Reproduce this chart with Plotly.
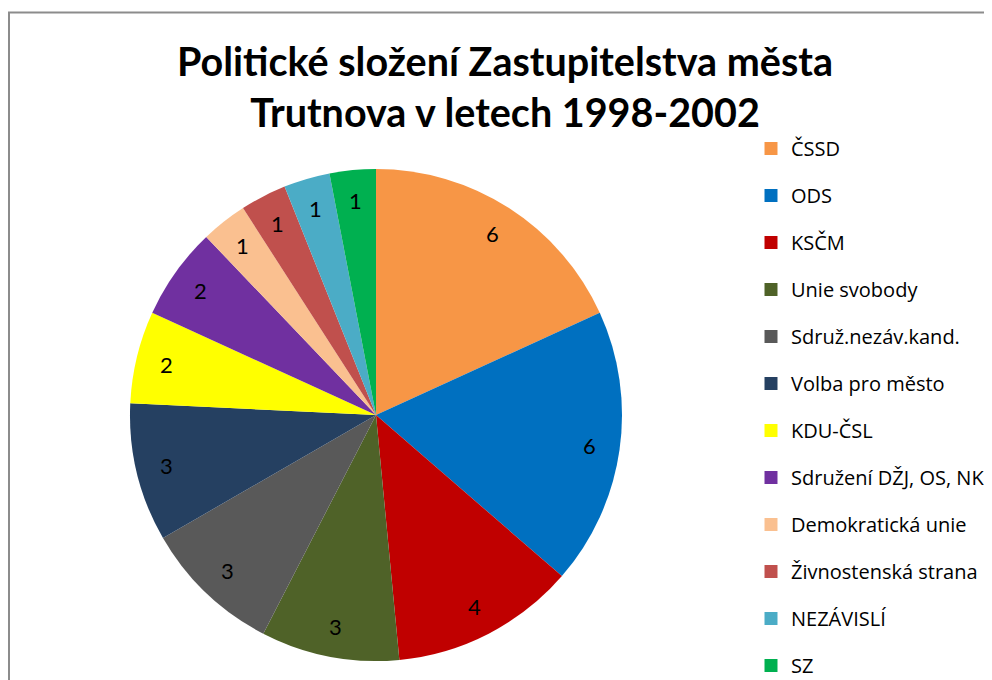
import numpy as np
import plotly.graph_objects as go

# ---- data ----
parties = ["ČSSD", "ODS", "KSČM", "Unie svobody", "Sdruž.nezáv.kand.", "Volba pro město",
           "KDU-ČSL", "Sdružení DŽJ, OS, NK", "Demokratická unie", "Živnostenská strana",
           "NEZÁVISLÍ", "SZ"]
seats = [6, 6, 4, 3, 3, 3, 2, 2, 1, 1, 1, 1]
colors = ["#F79646", "#0070C0", "#C00000", "#4F6228", "#595959", "#254061",
          "#FFFF00", "#7030A0", "#FAC090", "#C0504D", "#4BACC6", "#00B050"]
title_text = "Politické složení Zastupitelstva města<br>Trutnova v letech 1998-2002"

# ---- layout geometry (figure pixels; page body adds an 8px offset) ----
W, H = 984, 672
cx, cy, R = 368, 407, 246
FONT = "Lato, 'Open Sans', sans-serif"
LEG_FONT = "'Open Sans', Lato, sans-serif"


def px(x):
    return x / W


def py(y):
    return 1 - y / H


fig = go.Figure()
fig.add_trace(go.Pie(
    labels=parties, values=seats, sort=False, direction="clockwise", rotation=0,
    marker=dict(colors=colors, line=dict(width=0)),
    textinfo="none", showlegend=False, hoverinfo="label+value",
    domain=dict(x=[px(cx - R), px(cx + R)], y=[py(cy + R), py(cy - R)]),
))

# data labels placed near the outer edge of each slice
total = sum(seats)
cum = 0
for v in seats:
    mid = (cum + v / 2) / total * 2 * np.pi
    cum += v
    lx = cx + 0.875 * R * np.sin(mid)
    ly = cy - 0.875 * R * np.cos(mid)
    fig.add_annotation(x=px(lx), y=py(ly), xref="paper", yref="paper", text=str(v),
                       showarrow=False, xanchor="center", yanchor="middle",
                       font=dict(family=FONT, size=22, color="black"))

# legend entries
for name, col in zip(parties, colors):
    fig.add_trace(go.Scatter(x=[None], y=[None], mode="markers", name=name, legendgroup=name,
                             marker=dict(symbol="square", size=13, color=col),
                             hoverinfo="skip"))

# chart border
fig.add_shape(type="rect", xref="paper", yref="paper",
              x0=px(1), x1=1.02, y0=-0.02, y1=py(4.5),
              line=dict(color="#8c8c8c", width=2), fillcolor="rgba(0,0,0,0)")

fig.update_layout(
    width=W, height=H,
    margin=dict(l=0, r=0, t=0, b=0, autoexpand=False),
    paper_bgcolor="white", plot_bgcolor="white",
    title=dict(text=title_text, x=px(497), xanchor="center", xref="paper",
               y=py(68), yanchor="top", yref="container",
               font=dict(family=FONT, size=39.5, color="black", weight="bold")),
    xaxis=dict(visible=False), yaxis=dict(visible=False),
    legend=dict(x=px(743), xanchor="left", y=py(121), yanchor="top",
                traceorder="grouped", tracegroupgap=18,
                font=dict(family=LEG_FONT, size=20, color="black"),
                bgcolor="rgba(0,0,0,0)"),
    showlegend=True,
)

fig.write_html("out.html")
